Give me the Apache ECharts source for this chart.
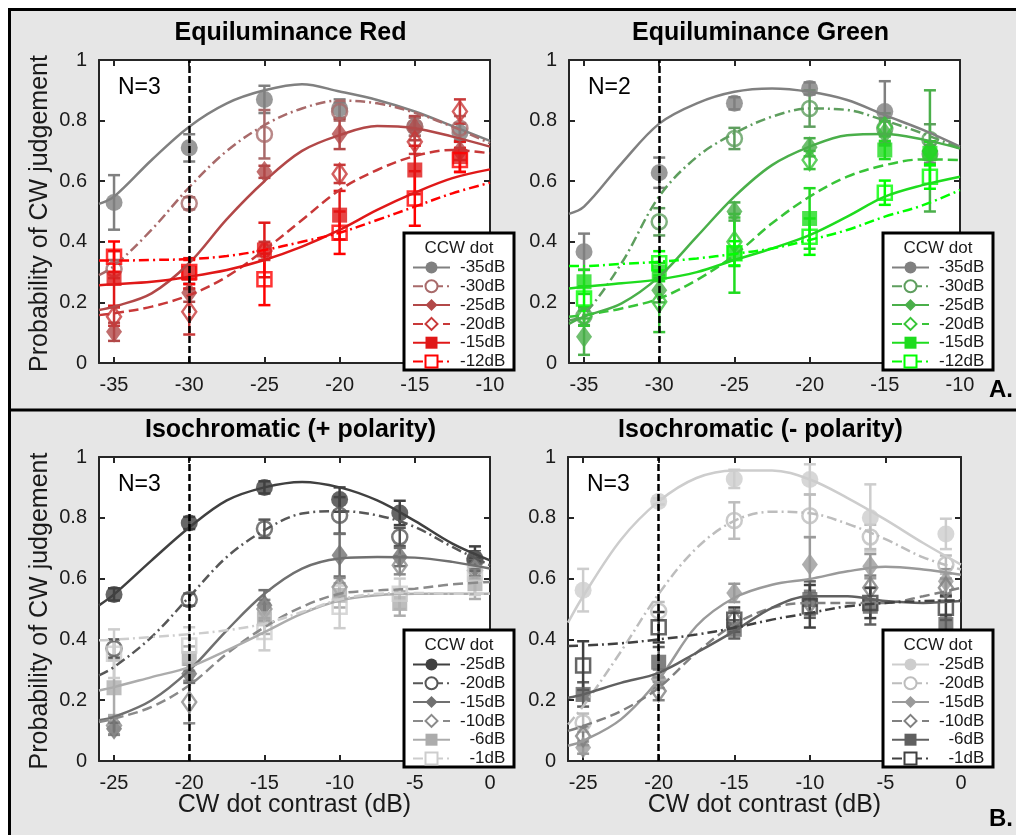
<!DOCTYPE html>
<html><head><meta charset="utf-8">
<script src="https://cdn.jsdelivr.net/npm/echarts@6/dist/echarts.min.js"></script>
<style>html,body{margin:0;padding:0;background:#fff}#c{width:1016px;height:835px}</style>
</head><body><div id="c"></div>
<script>
// ---------------- DATA ----------------
const xTop = [-35, -30, -25, -20, -15, -12];
const xBot = [-25, -20, -15, -10, -6, -1];
const fitXTop = [-36, -35, -32.5, -30, -27.5, -25, -22.5, -20, -17.5, -15, -12.5, -10];
const fitXBot = [-26, -25, -22.5, -20, -17.5, -15, -12.5, -10, -7.5, -5, -2.5, 0];
const topTicks = [-35, -30, -25, -20, -15, -10];
const botTicks = [-25, -20, -15, -10, -5, 0];
const refTop = -30;
const refBot = -20;

const redNames = ['-35dB', '-30dB', '-25dB', '-20dB', '-15dB', '-12dB'];
const greenNames = ['-35dB', '-30dB', '-25dB', '-20dB', '-15dB', '-12dB'];
const plusNames = ['-25dB', '-20dB', '-15dB', '-10dB', '-6dB', '-1dB'];
const minusNames = ['-25dB', '-20dB', '-15dB', '-10dB', '-6dB', '-1dB'];

const redPoints = [
  [0.53, 0.71, 0.87, 0.84, 0.78, 0.76],
  [0.31, 0.527, 0.755, 0.83, 0.78, 0.775],
  [0.103, 0.232, 0.631, 0.756, 0.775, 0.70],
  [0.153, 0.169, 0.37, 0.624, 0.73, 0.83],
  [0.279, 0.296, 0.373, 0.488, 0.637, 0.681],
  [0.351, 0.30, 0.276, 0.43, 0.543, 0.67]
];
const redErr = [
  [0.09, 0.045, 0.045, 0.03, 0.03, 0.03],
  [0.03, 0.02, 0.08, 0.03, 0.03, 0.04],
  [0.03, 0.03, 0.02, 0.05, 0.04, 0.03],
  [0.03, 0.075, 0.03, 0.03, 0.04, 0.04],
  [0.09, 0.05, 0.09, 0.08, 0.08, 0.05],
  [0.05, 0.04, 0.085, 0.07, 0.09, 0.04]
];
const redFit = [
  [0.525, 0.549, 0.67, 0.78, 0.857, 0.90, 0.92, 0.896, 0.868, 0.83, 0.782, 0.733],
  [0.29, 0.32, 0.44, 0.58, 0.70, 0.785, 0.84, 0.866, 0.857, 0.826, 0.78, 0.725],
  [0.175, 0.186, 0.23, 0.33, 0.475, 0.60, 0.70, 0.752, 0.782, 0.775, 0.747, 0.714],
  [0.158, 0.164, 0.186, 0.224, 0.285, 0.373, 0.472, 0.571, 0.637, 0.683, 0.703, 0.692],
  [0.257, 0.26, 0.268, 0.285, 0.307, 0.34, 0.384, 0.439, 0.505, 0.562, 0.61, 0.639],
  [0.338, 0.338, 0.34, 0.343, 0.353, 0.373, 0.40, 0.43, 0.472, 0.516, 0.56, 0.595]
];

const greenPoints = [
  [0.367, 0.628, 0.857, 0.906, 0.83, 0.69],
  [0.155, 0.466, 0.741, 0.84, 0.774, 0.738],
  [0.087, 0.24, 0.50, 0.712, 0.758, 0.70],
  [0.153, 0.202, 0.40, 0.67, 0.778, 0.70],
  [0.268, 0.30, 0.362, 0.477, 0.703, 0.692],
  [0.213, 0.329, 0.362, 0.417, 0.562, 0.615]
];
const greenErr = [
  [0.06, 0.05, 0.02, 0.02, 0.10, 0.03],
  [0.03, 0.045, 0.035, 0.06, 0.05, 0.05],
  [0.06, 0.04, 0.03, 0.03, 0.04, 0.20],
  [0.03, 0.10, 0.08, 0.03, 0.03, 0.03],
  [0.04, 0.03, 0.13, 0.10, 0.03, 0.04],
  [0.04, 0.04, 0.04, 0.06, 0.04, 0.04]
];
const greenFit = [
  [0.492, 0.516, 0.659, 0.79, 0.857, 0.895, 0.906, 0.895, 0.868, 0.818, 0.77, 0.714],
  [0.14, 0.16, 0.33, 0.55, 0.68, 0.758, 0.813, 0.84, 0.835, 0.80, 0.758, 0.708],
  [0.129, 0.153, 0.197, 0.285, 0.417, 0.549, 0.653, 0.714, 0.752, 0.756, 0.738, 0.708],
  [0.153, 0.158, 0.18, 0.213, 0.274, 0.356, 0.461, 0.549, 0.615, 0.653, 0.672, 0.67],
  [0.246, 0.252, 0.263, 0.276, 0.30, 0.34, 0.378, 0.422, 0.483, 0.549, 0.587, 0.615],
  [0.32, 0.32, 0.327, 0.334, 0.345, 0.36, 0.378, 0.406, 0.439, 0.483, 0.52, 0.571]
];

const plusPoints = [
  [0.548, 0.783, 0.90, 0.86, 0.816, 0.666],
  [0.37, 0.531, 0.764, 0.808, 0.737, 0.66],
  [0.106, 0.287, 0.512, 0.677, 0.671, 0.638],
  [0.117, 0.194, 0.50, 0.572, 0.644, 0.627],
  [0.241, 0.337, 0.468, 0.545, 0.518, 0.583],
  [0.353, 0.38, 0.424, 0.507, 0.55, 0.616]
];
const plusErr = [
  [0.02, 0.02, 0.02, 0.04, 0.04, 0.04],
  [0.03, 0.02, 0.03, 0.06, 0.03, 0.03],
  [0.02, 0.03, 0.05, 0.07, 0.03, 0.03],
  [0.03, 0.07, 0.03, 0.03, 0.03, 0.03],
  [0.09, 0.04, 0.05, 0.04, 0.04, 0.05],
  [0.08, 0.06, 0.06, 0.07, 0.05, 0.07]
];
const plusFit = [
  [0.512, 0.548, 0.66, 0.768, 0.857, 0.90, 0.918, 0.90, 0.857, 0.79, 0.715, 0.66],
  [0.282, 0.309, 0.408, 0.54, 0.671, 0.759, 0.814, 0.822, 0.808, 0.77, 0.704, 0.644],
  [0.134, 0.145, 0.20, 0.298, 0.43, 0.55, 0.633, 0.666, 0.671, 0.669, 0.655, 0.633],
  [0.128, 0.139, 0.178, 0.249, 0.353, 0.44, 0.507, 0.55, 0.561, 0.567, 0.581, 0.589],
  [0.232, 0.243, 0.276, 0.309, 0.364, 0.424, 0.485, 0.528, 0.545, 0.55, 0.55, 0.55],
  [0.397, 0.399, 0.408, 0.417, 0.43, 0.452, 0.49, 0.531, 0.55, 0.553, 0.55, 0.55]
];

const minusPoints = [
  [0.562, 0.854, 0.928, 0.926, 0.80, 0.747],
  [0.126, 0.493, 0.791, 0.807, 0.737, 0.646],
  [0.044, 0.27, 0.553, 0.646, 0.641, 0.591],
  [0.082, 0.23, 0.465, 0.52, 0.57, 0.57],
  [0.219, 0.325, 0.433, 0.531, 0.509, 0.449],
  [0.314, 0.44, 0.465, 0.509, 0.52, 0.504]
];
const minusErr = [
  [0.07, 0.01, 0.03, 0.05, 0.11, 0.05],
  [0.03, 0.03, 0.06, 0.07, 0.04, 0.03],
  [0.02, 0.03, 0.03, 0.09, 0.04, 0.04],
  [0.03, 0.03, 0.03, 0.04, 0.04, 0.03],
  [0.04, 0.05, 0.03, 0.06, 0.06, 0.03],
  [0.08, 0.05, 0.04, 0.07, 0.05, 0.04]
];
const minusFit = [
  [0.455, 0.542, 0.728, 0.854, 0.931, 0.956, 0.956, 0.926, 0.865, 0.794, 0.717, 0.646],
  [0.12, 0.18, 0.36, 0.55, 0.70, 0.79, 0.82, 0.815, 0.78, 0.73, 0.67, 0.63],
  [0.05, 0.066, 0.137, 0.268, 0.444, 0.537, 0.58, 0.599, 0.624, 0.639, 0.63, 0.613],
  [0.099, 0.115, 0.164, 0.241, 0.356, 0.449, 0.504, 0.52, 0.52, 0.52, 0.542, 0.57],
  [0.208, 0.219, 0.257, 0.29, 0.356, 0.427, 0.504, 0.542, 0.542, 0.526, 0.52, 0.526],
  [0.378, 0.38, 0.387, 0.40, 0.416, 0.438, 0.465, 0.487, 0.509, 0.52, 0.526, 0.528]
];

// ---------------- STYLE ----------------
const FONT = "'Liberation Sans', Arial, Helvetica, sans-serif";
const TXT = '#1a1a1a';
const redColors = ['#808080', '#a86a6a', '#b24848', '#c83838', '#e01818', '#ff0000'];
const greenColors = ['#808080', '#5e9e5e', '#4aaf4a', '#38c438', '#1edc1e', '#00ff00'];
const plusColors = ['#404040', '#575757', '#707070', '#8a8a8a', '#acacac', '#cdcdcd'];
const minusColors = ['#cdcdcd', '#bdbdbd', '#9a9a9a', '#808080', '#606060', '#404040'];
const symbols = ['circle', 'emptyCircle', 'diamond', 'emptyDiamond', 'rect', 'emptyRect'];
const symSizes = [17, 15, [16, 22], [14, 20], 15, 14];
const DD = [10, 4, 2, 4];
const DASH = [10, 5];
const dashes = ['solid', DD, 'solid', DASH, 'solid', DD];

const panels = [
  {key: 'A', grid: {left: 99, top: 60, width: 391, height: 303}, xmin: -36, xmax: -10, ticks: topTicks,
   xs: xTop, fitX: fitXTop, names: redNames, pts: redPoints, err: redErr, fit: redFit, colors: redColors, ref: refTop,
   title: 'Equiluminance Red', n: 'N=3', legend: {x: 404, y: 233}, xTitle: false},
  {key: 'B', grid: {left: 569, top: 60, width: 391, height: 303}, xmin: -36, xmax: -10, ticks: topTicks,
   xs: xTop, fitX: fitXTop, names: greenNames, pts: greenPoints, err: greenErr, fit: greenFit, colors: greenColors, ref: refTop,
   title: 'Equiluminance Green', n: 'N=2', legend: {x: 883, y: 233}, xTitle: false},
  {key: 'C', grid: {left: 99, top: 457, width: 391, height: 304}, xmin: -26, xmax: 0, ticks: botTicks,
   xs: xBot, fitX: fitXBot, names: plusNames, pts: plusPoints, err: plusErr, fit: plusFit, colors: plusColors, ref: refBot,
   title: 'Isochromatic (+ polarity)', n: 'N=3', legend: {x: 404, y: 630}, xTitle: true},
  {key: 'D', grid: {left: 568, top: 457, width: 393, height: 304}, xmin: -26, xmax: 0, ticks: botTicks,
   xs: xBot, fitX: fitXBot, names: minusNames, pts: minusPoints, err: minusErr, fit: minusFit, colors: minusColors, ref: refBot,
   title: 'Isochromatic (- polarity)', n: 'N=3', legend: {x: 883, y: 630}, xTitle: true}
];

function errRender(params, api) {
  const x = api.value(0), lo = api.value(1), hi = api.value(2);
  const a = api.coord([x, hi]), b = api.coord([x, lo]);
  const w = 6;
  const style = {stroke: api.visual('color'), lineWidth: 2.5};
  return {type: 'group', children: [
    {type: 'line', shape: {x1: a[0], y1: a[1], x2: b[0], y2: b[1]}, style: style},
    {type: 'line', shape: {x1: a[0] - w, y1: a[1], x2: a[0] + w, y2: a[1]}, style: style},
    {type: 'line', shape: {x1: b[0] - w, y1: b[1], x2: b[0] + w, y2: b[1]}, style: style}
  ]};
}

const grids = [], xAxes = [], yAxes = [], series = [], legends = [], graphics = [];
const axisLineStyle = {color: '#262626', width: 2};

graphics.push({type: 'rect', z: -10, shape: {x: 9.5, y: 9.5, width: 1020, height: 840},
  style: {fill: '#e6e6e6', stroke: '#000', lineWidth: 3}});
graphics.push({type: 'line', z: 1, shape: {x1: 9, y1: 410, x2: 1020, y2: 410}, style: {stroke: '#000', lineWidth: 3}});
graphics.push({type: 'text', z: 50, x: 1001, y: 390, style: {text: 'A.', font: 'bold 24px ' + FONT, fill: '#000', align: 'center', verticalAlign: 'middle'}});
graphics.push({type: 'text', z: 50, x: 1001, y: 819, style: {text: 'B.', font: 'bold 24px ' + FONT, fill: '#000', align: 'center', verticalAlign: 'middle'}});

panels.forEach((p, i) => {
  const g = p.grid;
  grids.push(Object.assign({show: true, backgroundColor: '#fff', borderWidth: 0, containLabel: false}, g));
  const tickBase = {show: true, inside: true, length: 6, lineStyle: {color: '#262626', width: 2}};
  xAxes.push({type: 'value', gridIndex: i, min: p.xmin, max: p.xmax, position: 'bottom',
    axisLine: {show: true, onZero: false, lineStyle: axisLineStyle},
    axisTick: Object.assign({customValues: p.ticks}, tickBase),
    axisLabel: {customValues: p.ticks, fontSize: 20, color: TXT, fontFamily: FONT, margin: 12},
    splitLine: {show: false}});
  xAxes.push({type: 'value', gridIndex: i, min: p.xmin, max: p.xmax, position: 'top',
    axisLine: {show: true, onZero: false, lineStyle: axisLineStyle},
    axisTick: Object.assign({customValues: p.ticks}, tickBase),
    axisLabel: {show: false}, splitLine: {show: false}});
  yAxes.push({type: 'value', gridIndex: i, min: 0, max: 1, interval: 0.2, position: 'left',
    axisLine: {show: true, onZero: false, lineStyle: axisLineStyle},
    axisTick: tickBase,
    axisLabel: {fontSize: 20, color: TXT, fontFamily: FONT, margin: 12},
    splitLine: {show: false}});
  yAxes.push({type: 'value', gridIndex: i, min: 0, max: 1, interval: 0.2, position: 'right',
    axisLine: {show: true, onZero: false, lineStyle: axisLineStyle},
    axisTick: tickBase, axisLabel: {show: false}, splitLine: {show: false}});

  const legendNames = [];
  p.names.forEach((nm, k) => {
    const col = p.colors[k];
    const sym = symbols[k];
    const empty = sym.indexOf('empty') === 0;
    const baseSym = empty ? sym.slice(5).toLowerCase() : sym;
    const full = p.key + '|' + nm;
    legendNames.push(full);
    series.push({type: 'custom', name: full + ' err', xAxisIndex: 2 * i, yAxisIndex: 2 * i,
      renderItem: errRender, itemStyle: {color: col}, silent: true,
      data: p.xs.map((x, j) => [x, p.pts[k][j] - p.err[k][j], p.pts[k][j] + p.err[k][j]])});
    series.push({type: 'scatter', name: full + ' pts', xAxisIndex: 2 * i, yAxisIndex: 2 * i,
      symbol: baseSym, symbolSize: symSizes[k], silent: true,
      itemStyle: empty ? {color: 'rgba(255,255,255,0)', borderColor: col, borderWidth: 2.5} : {color: col},
      data: p.xs.map((x, j) => [x, p.pts[k][j]])});
    const s = {type: 'line', name: full, xAxisIndex: 2 * i, yAxisIndex: 2 * i,
      smooth: 0.35, showSymbol: false, symbol: sym, symbolSize: 12, silent: true,
      lineStyle: {color: col, width: 2.5, type: dashes[k]}, itemStyle: {color: col},
      data: p.fitX.map((x, j) => [x, p.fit[k][j]])};
    if (k === 5) {
      s.markLine = {silent: true, symbol: 'none', label: {show: false}, animation: false,
        lineStyle: {color: '#000', type: [7, 3], width: 2.5}, emphasis: {disabled: true},
        data: [{xAxis: p.ref}]};
    }
    series.push(s);
  });

  legends.push({data: legendNames, orient: 'vertical', left: p.legend.x + 8, top: p.legend.y + 26,
    itemWidth: 37, itemHeight: 15, itemGap: 1.8, padding: 0, selectedMode: false, z: 60,
    formatter: (name) => { const t = name.split('|')[1]; return (t.length === 4 ? '\u2007' : '') + t; },
    textStyle: {fontSize: 17, fontFamily: FONT, color: TXT, lineHeight: 15, padding: [0, 0, 0, 5]}});

  graphics.push({type: 'rect', z: 55, shape: {x: p.legend.x, y: p.legend.y, width: 110, height: 137},
    style: {fill: '#fff', stroke: '#000', lineWidth: 3}});
  graphics.push({type: 'text', z: 56, x: p.legend.x + 55, y: p.legend.y + 15,
    style: {text: 'CCW dot', font: '17px ' + FONT, fill: TXT, align: 'center', verticalAlign: 'middle'}});

  const cx = g.left + g.width / 2, cy = g.top + g.height / 2;
  graphics.push({type: 'text', z: 50, x: cx - 4, y: g.top - 27,
    style: {text: p.title, font: 'bold 25px ' + FONT, fill: '#000', align: 'center', verticalAlign: 'middle'}});
  graphics.push({type: 'text', z: 50, x: g.left + 19, y: g.top + 28,
    style: {text: p.n, font: '23px ' + FONT, fill: '#000', align: 'left', verticalAlign: 'middle'}});
  if (p.xTitle) {
    graphics.push({type: 'text', z: 50, x: cx, y: 805,
      style: {text: 'CW dot contrast (dB)', font: '25px ' + FONT, fill: TXT, align: 'center', verticalAlign: 'middle'}});
  }
  if (i % 2 === 0) {
    graphics.push({type: 'text', z: 50, x: 40, y: cy + 2, rotation: Math.PI / 2,
      style: {text: 'Probability of CW judgement', font: '25px ' + FONT, fill: TXT, align: 'center', verticalAlign: 'middle'}});
  }
});

const chart = echarts.init(document.getElementById('c'), null, {renderer: 'canvas'});
chart.setOption({
  animation: false,
  backgroundColor: '#ffffff',
  grid: grids, xAxis: xAxes, yAxis: yAxes, series: series, legend: legends,
  graphic: {elements: graphics}
});
</script></body></html>
